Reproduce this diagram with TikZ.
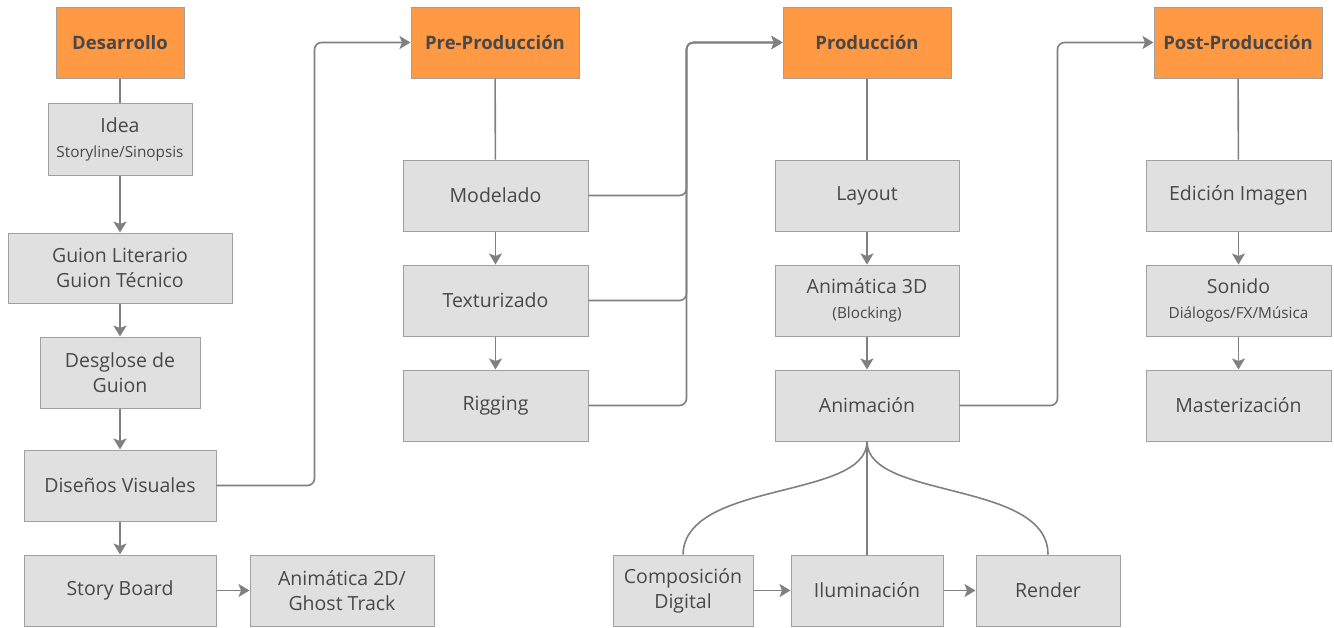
\documentclass[tikz,border=0pt]{standalone}
\usepackage{fontspec}
\setmainfont{Open Sans}
\usepackage{xcolor}
\usepackage{tikz}
\usetikzlibrary{arrows.meta,positioning}

\definecolor{fase}{RGB}{255,153,68}
\definecolor{caja}{RGB}{224,224,224}
\definecolor{borde}{RGB}{160,160,160}
\definecolor{linea}{RGB}{128,128,128}
\definecolor{texto}{RGB}{72,72,72}

\tikzset{
    fasebox/.style={draw=borde, line width=1pt, fill=fase, text=texto,
        minimum width=168pt, minimum height=71pt, font=\fontsize{18.5}{25}\selectfont\bfseries},
    tarea/.style={draw=borde, line width=1pt, fill=caja, text=texto, align=center,
        minimum height=71pt, font=\fontsize{19.5}{25}\selectfont},
    flujo/.style={draw=linea, line width=1.6pt, -{Stealth[length=11pt,width=13pt,inset=2.5pt]}},
    enlace/.style={draw=linea, line width=1.6pt}
}

\newcommand{\sub}[1]{{\fontsize{15.3}{20}\selectfont #1}}

\begin{document}
\begin{tikzpicture}[x=1pt,y=-1pt]
    \useasboundingbox (0,0) rectangle (1334,627);

    % Desarrollo
    \node[fasebox, minimum width=128pt] (des) at (120,42.5) {Desarrollo};
    \node[tarea, minimum width=144pt, minimum height=72pt] (idea) at (120,139) {Idea\\[0pt]\sub{Storyline/Sinopsis}};
    \node[tarea, minimum width=224pt, minimum height=70pt] (guion) at (120,268) {Guion Literario\\Guion Técnico};
    \node[tarea, minimum width=160pt] (desg) at (120,372.5) {Desglose de\\Guion};
    \node[tarea, minimum width=192pt] (dis) at (120,485.5) {Diseños Visuales};
    \node[tarea, minimum width=192pt] (story) at (120,590.5) {Story Board};
    \node[tarea, minimum width=184pt] (ani2) at (342,590.5) {Animática 2D/\\Ghost Track};

    % Pre-Produccion
    \node[fasebox] (pre) at (495,42.5) {Pre-Producción};
    \node[tarea, minimum width=185pt] (mod) at (495.5,195.5) {Modelado};
    \node[tarea, minimum width=185pt] (tex) at (495.5,300.5) {Texturizado};
    \node[tarea, minimum width=185pt] (rig) at (495.5,405.5) {Rigging};

    % Produccion
    \node[fasebox] (prod) at (867,42.5) {Producción};
    \node[tarea, minimum width=184pt] (lay) at (867,195.5) {Layout};
    \node[tarea, minimum width=184pt] (ani3) at (867,300.5) {Animática 3D\\[0pt]\sub{(Blocking)}};
    \node[tarea, minimum width=184pt] (anim) at (867,405.5) {Animación};
    \node[tarea, minimum width=140pt] (comp) at (683,590.5) {Composición\\Digital};
    \node[tarea, minimum width=152pt] (ilu) at (867,590.5) {Iluminación};
    \node[tarea, minimum width=144pt] (ren) at (1048,590.5) {Render};

    % Post-Produccion
    \node[fasebox] (post) at (1238,42.5) {Post-Producción};
    \node[tarea, minimum width=185pt] (edi) at (1238.5,195.5) {Edición Imagen};
    \node[tarea, minimum width=185pt] (son) at (1238.5,300.5) {Sonido\\[0pt]\sub{Diálogos/FX/Música}};
    \node[tarea, minimum width=185pt] (mas) at (1238.5,405.5) {Masterización};

    % conexiones
    \draw[enlace] (des) -- (idea);
    \draw[flujo] (idea) -- (guion);
    \draw[flujo] (guion) -- (desg);
    \draw[flujo] (desg) -- (dis);
    \draw[flujo] (dis) -- (story);
    \draw[flujo] (story) -- (ani2);
    \draw[flujo, rounded corners=7pt] (dis.east) -- ++(98,0) |- (pre.west);

    \draw[enlace] (pre) -- (mod);
    \draw[flujo] (mod) -- (tex);
    \draw[flujo] (tex) -- (rig);
    \draw[flujo, rounded corners=7pt] (mod.east) -- ++(98,0) |- (prod.west);
    \draw[flujo, rounded corners=7pt] (tex.east) -- ++(98,0) |- (prod.west);
    \draw[flujo, rounded corners=7pt] (rig.east) -- ++(98,0) |- (prod.west);

    \draw[enlace] (prod) -- (lay);
    \draw[flujo] (lay) -- (ani3);
    \draw[flujo] (ani3) -- (anim);
    \draw[flujo, rounded corners=7pt] (anim.east) -- ++(98,0) |- (post.west);
    \draw[enlace] (anim.south) .. controls (867,500) and (685,480) .. (comp.north);
    \draw[enlace] (anim.south) -- (ilu.north);
    \draw[enlace] (anim.south) .. controls (867,500) and (1048,480) .. (ren.north);
    \draw[flujo] (comp) -- (ilu);
    \draw[flujo] (ilu) -- (ren);

    \draw[enlace] (post) -- (edi);
    \draw[flujo] (edi) -- (son);
    \draw[flujo] (son) -- (mas);
\end{tikzpicture}
\end{document}
